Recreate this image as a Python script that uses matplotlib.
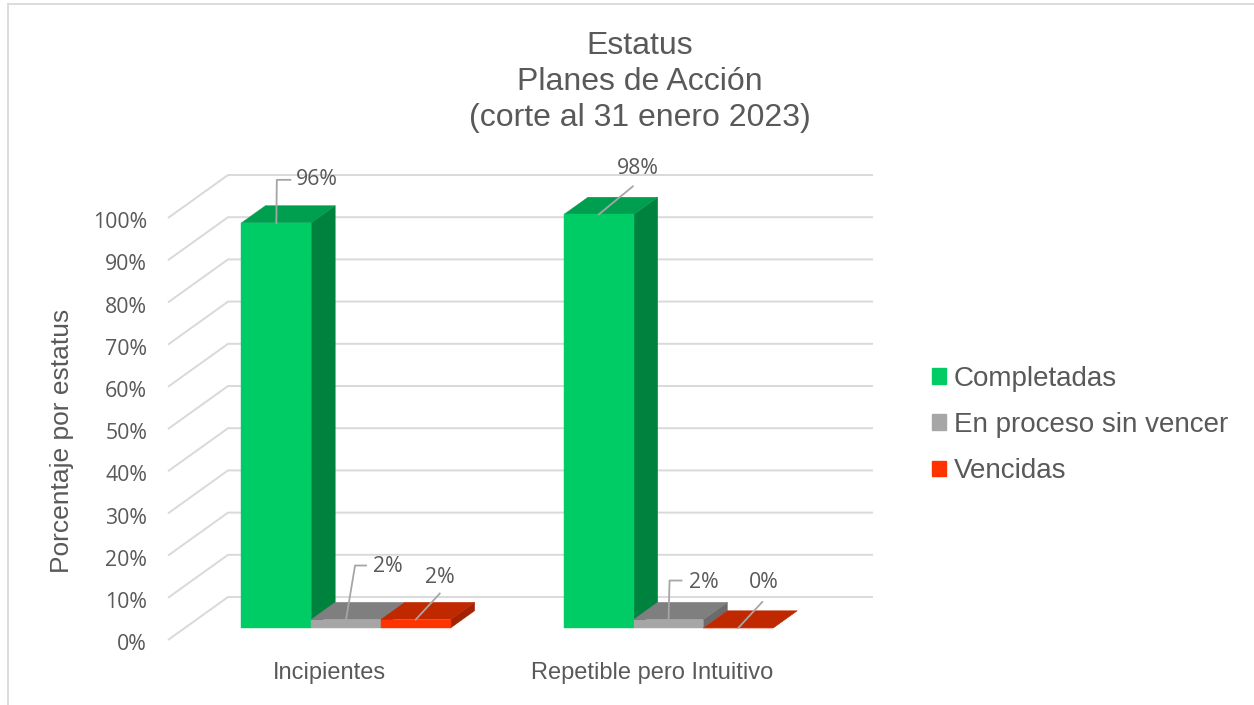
import matplotlib
matplotlib.use('Agg')
import matplotlib.pyplot as plt
from matplotlib.patches import Polygon, Patch
from matplotlib.lines import Line2D

# ---------------- data ----------------
categories = ['Incipientes', 'Repetible pero Intuitivo']
series_names = ['Completadas', 'En proceso sin vencer', 'Vencidas']
completadas = [96, 98]
en_proceso = [2, 2]
vencidas = [2, 0]
y_ticks = [0, 10, 20, 30, 40, 50, 60, 70, 80, 90, 100]
tick_labels = [f'{t}%' for t in y_ticks]
title_text = 'Estatus\nPlanes de Acción\n(corte al 31 enero 2023)'
ylabel_text = 'Porcentaje por estatus'

series_values = [completadas, en_proceso, vencidas]

# ---------------- style ----------------
front_colors = ['#00CC66', '#A6A6A6', '#FF3300']
top_colors = ['#009F50', '#7F7F7F', '#C02800']
side_colors = ['#00823F', '#6B6B6B', '#A32200']
grid_color = '#D9D9D9'
text_color = '#595959'
leader_color = '#A6A6A6'
main_font = ['Liberation Sans', 'DejaVu Sans']
num_font = ['Open Sans', 'DejaVu Sans']

# label offsets (pixels) relative to bar front-top centre, and leader paths
label_offsets = [[(40, 43), (42, 53), (24, 42)],
                 [(39, 46), (35, 37), (25, 45)]]
leader_paths = [[[(0, 0), (0.5, 43), (14, 43)], [(0, 0), (9, 54), (20, 54)], [(0, 0), (24, 26)]],
                [[(0, 0), (34, 28)], [(0, 0), (1, 39), (13, 39)], [(0, 0), (24, 26)]]]

FW, FH = 1254, 705
fig = plt.figure(figsize=(FW / 100, FH / 100), dpi=100)
fig.patch.set_facecolor('white')

left_px, right_px, top_px, bot_px = 168, 873, 175, 640
ax = fig.add_axes([left_px / FW, (FH - bot_px) / FH,
                   (right_px - left_px) / FW, (bot_px - top_px) / FH])
ax.axis('off')

slot = 4.625          # width of one category slot on the floor
bar_w = 1.0
ox, oy = 0.861, 10.19  # full depth offset (x units, % units)
z0, z1 = 0.28, 0.68    # bar depth range (fraction of full depth)
n_ser = len(series_values)
floor_len = slot * len(categories)

ax.set_xlim(0, floor_len + ox)
ax.set_ylim(0, 100 + oy)

# gridlines: left wall + back wall
for t, lab in zip(y_ticks, tick_labels):
    ax.plot([0, ox, floor_len + ox], [t, t + oy, t + oy], color=grid_color,
            lw=1.4, zorder=0, solid_capstyle='butt', clip_on=False)
    ax.text(-0.3, t - 1.1, lab, ha='right', va='center', fontsize=15.3,
            color=text_color, family=num_font, clip_on=False)

# bars
for i, cat in enumerate(categories):
    x_start = i * slot + (slot - n_ser * bar_w) / 2
    for s in range(n_ser):
        v = series_values[s][i]
        x = x_start + s * bar_w
        fx, fy = x + z0 * ox, z0 * oy
        dx, dy = (z1 - z0) * ox, (z1 - z0) * oy
        zb = 2 + i * 10 + s * 3
        ax.bar(fx, v, bottom=fy, width=bar_w, align='edge',
               color=front_colors[s], edgecolor=front_colors[s], lw=0.3, zorder=zb + 2)
        top = Polygon([(fx, fy + v), (fx + bar_w, fy + v),
                       (fx + bar_w + dx, fy + v + dy), (fx + dx, fy + v + dy)],
                      closed=True, facecolor=top_colors[s], edgecolor=top_colors[s],
                      lw=0.3, zorder=zb + 1)
        ax.add_patch(top)
        side = Polygon([(fx + bar_w, fy), (fx + bar_w, fy + v),
                        (fx + bar_w + dx, fy + v + dy), (fx + bar_w + dx, fy + dy)],
                       closed=True, facecolor=side_colors[s], edgecolor=side_colors[s],
                       lw=0.3, zorder=zb)
        ax.add_patch(side)

        # data label + leader line
        anchor = ax.transData.transform((fx + bar_w / 2, fy + v))
        inv = ax.transData.inverted()
        pts = [inv.transform((anchor[0] + px, anchor[1] + py)) for px, py in leader_paths[i][s]]
        ax.plot([p[0] for p in pts], [p[1] for p in pts], color=leader_color,
                lw=1.3, zorder=60, clip_on=False)
        ax.annotate(f'{v}%', xy=(fx + bar_w / 2, fy + v), xytext=label_offsets[i][s],
                    textcoords='offset pixels', ha='center', va='center',
                    fontsize=15.3, color=text_color, family=num_font, zorder=61)

    # category label
    ax.text(i * slot + slot / 2, -7.9, cat, ha='center', va='center',
            fontsize=17, color=text_color, family=main_font, clip_on=False)

# legend
handles = [Patch(facecolor=c, edgecolor=c) for c in front_colors]
leg = fig.legend(handles, series_names, loc='center left',
                 bbox_to_anchor=(918 / FW, 1 - 425 / FH), frameon=False,
                 handlelength=0.5, handleheight=0.5,
                 handletextpad=0.28, labelspacing=0.73, borderpad=0,
                 prop={'family': main_font, 'size': 20})
for txt in leg.get_texts():
    txt.set_color(text_color)

# title and axis label
fig.text(640 / FW, 1 - 82 / FH, title_text, ha='center', va='center',
         fontsize=23, color=text_color, family=main_font, linespacing=1.27,
         multialignment='center')
fig.text(62 / FW, 1 - 441 / FH, ylabel_text, rotation=90, ha='center', va='center',
         fontsize=19, color=text_color, family=main_font)

# chart frame (top and left edges visible)
fig.add_artist(Line2D([8 / FW, 8 / FW], [0, 1 - 4 / FH], color=grid_color, lw=1.3,
                      transform=fig.transFigure))
fig.add_artist(Line2D([8 / FW, 1], [1 - 4 / FH, 1 - 4 / FH], color=grid_color, lw=1.3,
                      transform=fig.transFigure))

fig.savefig('out.png', dpi=100, facecolor='white')
